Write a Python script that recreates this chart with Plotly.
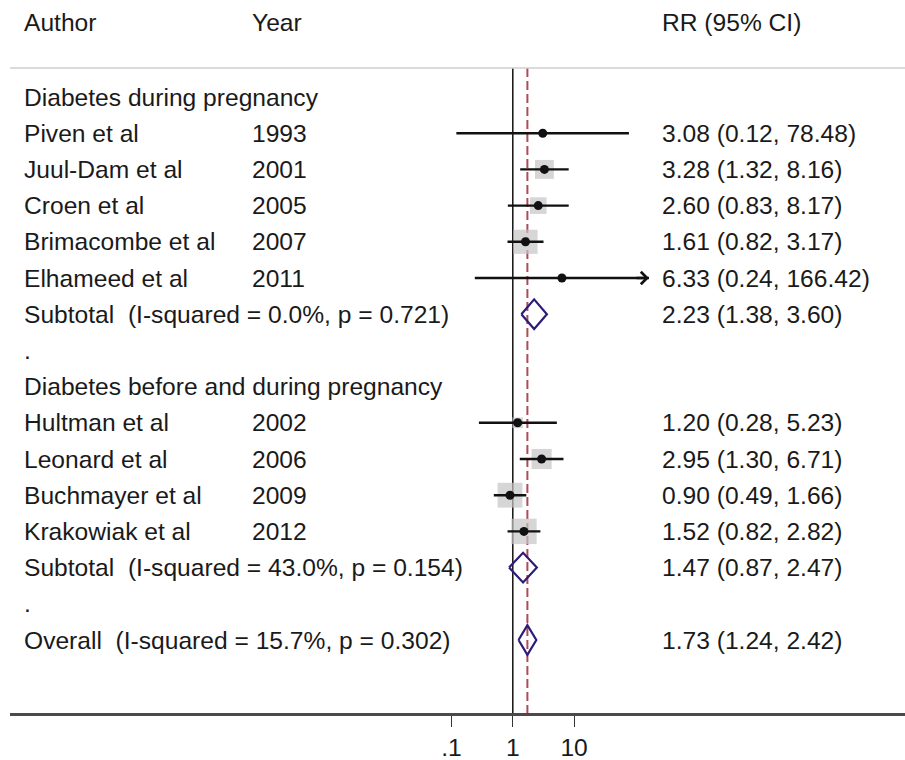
import math
import plotly.graph_objects as go

# ---------------- data ----------------
authors = ["Piven et al", "Juul-Dam et al", "Croen et al", "Brimacombe et al", "Elhameed et al",
           "Hultman et al", "Leonard et al", "Buchmayer et al", "Krakowiak et al"]
years = [1993, 2001, 2005, 2007, 2011, 2002, 2006, 2009, 2012]
groups = [0, 0, 0, 0, 0, 1, 1, 1, 1]
rr = [3.08, 3.28, 2.60, 1.61, 6.33, 1.20, 2.95, 0.90, 1.52]
rr_lo = [0.12, 1.32, 0.83, 0.82, 0.24, 0.28, 1.30, 0.49, 0.82]
rr_hi = [78.48, 8.16, 8.17, 3.17, 166.42, 5.23, 6.71, 1.66, 2.82]
weights = [0.4, 11.8, 9.1, 19.4, 0.4, 3.7, 13.4, 20.4, 21.4]

group_names = ["Diabetes during pregnancy", "Diabetes before and during pregnancy"]
sub_rr = [2.23, 1.47]
sub_lo = [1.38, 0.87]
sub_hi = [3.60, 2.47]
sub_i2 = [0.0, 43.0]
sub_p = [0.721, 0.154]

overall_rr = 1.73
overall_lo = 1.24
overall_hi = 2.42
overall_i2 = 15.7
overall_p = 0.302

headers = ["Author", "Year", "RR (95% CI)"]
tick_vals = [0.1, 1, 10]
tick_text = [".1", "1", "10"]

# ---------------- layout helpers ----------------
W, H = 905, 760
ML, MB = 10, 47
FONT = "Liberation Sans, Arial, Helvetica, sans-serif"
FS = 24.6
TXT = "#1a1a1a"
NSP = "\u00a0"

row0_px, row_h = 97.0, 36.2
plot_h = H - MB
y_top = (0 - row0_px) / row_h
y_bot = (plot_h - row0_px) / row_h
hdr_row = (22 - row0_px) / row_h
line_row = (68 - row0_px) / row_h

def px_to_paper(px):
    return (px - ML) / (W - ML)

col_author = px_to_paper(22)
col_year = px_to_paper(250)
col_val = px_to_paper(660)

x_one_px, decade_px = 512.8, 61.3
x_range = [(ML - x_one_px) / decade_px, (W - x_one_px) / decade_px]

# build row structure
r = 0
study_rows = [None] * len(authors)
sub_rows = []
group_rows = []
for g in range(len(group_names)):
    group_rows.append(r); r += 1
    for i in range(len(authors)):
        if groups[i] == g:
            study_rows[i] = r; r += 1
    sub_rows.append(r); r += 1
    r += 1  # "." spacer row
dot_rows = [s + 1 for s in sub_rows]
overall_row = r

fig = go.Figure()
ann = []

def txt(x, y, s):
    ann.append(dict(x=x, y=y, xref="paper", yref="y", text=s, showarrow=False,
                    xanchor="left", yanchor="middle",
                    font=dict(family=FONT, size=FS, color=TXT)))

for h, cx in zip(headers, [col_author, col_year, col_val]):
    txt(cx, hdr_row, h)

# reference lines
fig.add_trace(go.Scatter(x=[1, 1], y=[line_row, y_bot], mode="lines",
                         line=dict(color="#111111", width=1.5), hoverinfo="skip", showlegend=False))
fig.add_trace(go.Scatter(x=[overall_rr, overall_rr], y=[line_row, y_bot], mode="lines",
                         line=dict(color="#b24a55", width=2, dash="9px,4px"),
                         hoverinfo="skip", showlegend=False))

# weight boxes
box_sizes = [5.5 * math.sqrt(w) for w in weights]
fig.add_trace(go.Scatter(x=rr, y=study_rows, mode="markers",
                         marker=dict(symbol="square", size=box_sizes, color="#c4c4c4", line=dict(width=0)),
                         hoverinfo="skip", showlegend=False))

# CI lines
for i in range(len(authors)):
    fig.add_trace(go.Scatter(x=[rr_lo[i], rr_hi[i]], y=[study_rows[i]] * 2, mode="lines",
                             line=dict(color="#111111", width=2.4), hoverinfo="skip", showlegend=False))

# point estimates
fig.add_trace(go.Scatter(x=rr, y=study_rows, mode="markers",
                         marker=dict(symbol="circle", size=9, color="#111111"),
                         hoverinfo="skip", showlegend=False))

# arrow for truncated CI
for i in range(len(authors)):
    if rr_hi[i] > 100:
        ann.append(dict(x=math.log10(rr_hi[i]), y=study_rows[i], xref="x", yref="y",
                        ax=-14, ay=0, axref="pixel", ayref="pixel", text="", showarrow=True,
                        arrowhead=4, arrowsize=1.0, arrowwidth=2.4, arrowcolor="#111111"))

# diamonds
dh = 0.41
def diamond(est, lo, hi, row):
    fig.add_trace(go.Scatter(x=[lo, est, hi, est, lo], y=[row, row - dh, row, row + dh, row],
                             mode="lines", line=dict(color="#2c1c78", width=2.2),
                             hoverinfo="skip", showlegend=False))

for g in range(len(group_names)):
    diamond(sub_rr[g], sub_lo[g], sub_hi[g], sub_rows[g])
diamond(overall_rr, overall_lo, overall_hi, overall_row)

# texts
for g in range(len(group_names)):
    txt(col_author, group_rows[g], group_names[g])
    txt(col_author, sub_rows[g],
        f"Subtotal{NSP} (I-squared = {sub_i2[g]:.1f}%, p = {sub_p[g]:.3f})")
    txt(col_val, sub_rows[g], f"{sub_rr[g]:.2f} ({sub_lo[g]:.2f}, {sub_hi[g]:.2f})")
    txt(col_author, dot_rows[g], ".")
for i in range(len(authors)):
    txt(col_author, study_rows[i], authors[i])
    txt(col_year, study_rows[i], str(years[i]))
    txt(col_val, study_rows[i], f"{rr[i]:.2f} ({rr_lo[i]:.2f}, {rr_hi[i]:.2f})")
txt(col_author, overall_row, f"Overall{NSP} (I-squared = {overall_i2:.1f}%, p = {overall_p:.3f})")
txt(col_val, overall_row, f"{overall_rr:.2f} ({overall_lo:.2f}, {overall_hi:.2f})")

shapes = [dict(type="line", xref="paper", yref="y", x0=0, x1=1, y0=line_row, y1=line_row,
               line=dict(color="#cfcfcf", width=1.5))]

fig.update_layout(
    width=W, height=H, margin=dict(l=ML, r=0, t=0, b=MB),
    paper_bgcolor="white", plot_bgcolor="white",
    annotations=ann, shapes=shapes, showlegend=False,
    font=dict(family=FONT, size=FS, color=TXT),
    xaxis=dict(type="log", range=x_range, tickvals=tick_vals, ticktext=tick_text,
               ticks="outside", ticklen=11, tickwidth=1.3, tickcolor="#333",
               showline=True, linecolor="#4a4a4a", linewidth=2.5, showgrid=False, zeroline=False,
               tickfont=dict(family=FONT, size=FS, color=TXT), ticklabelstandoff=0,
               fixedrange=True),
    yaxis=dict(range=[y_bot, y_top], visible=False, showgrid=False, zeroline=False, fixedrange=True),
)

fig.write_html("out.html")
